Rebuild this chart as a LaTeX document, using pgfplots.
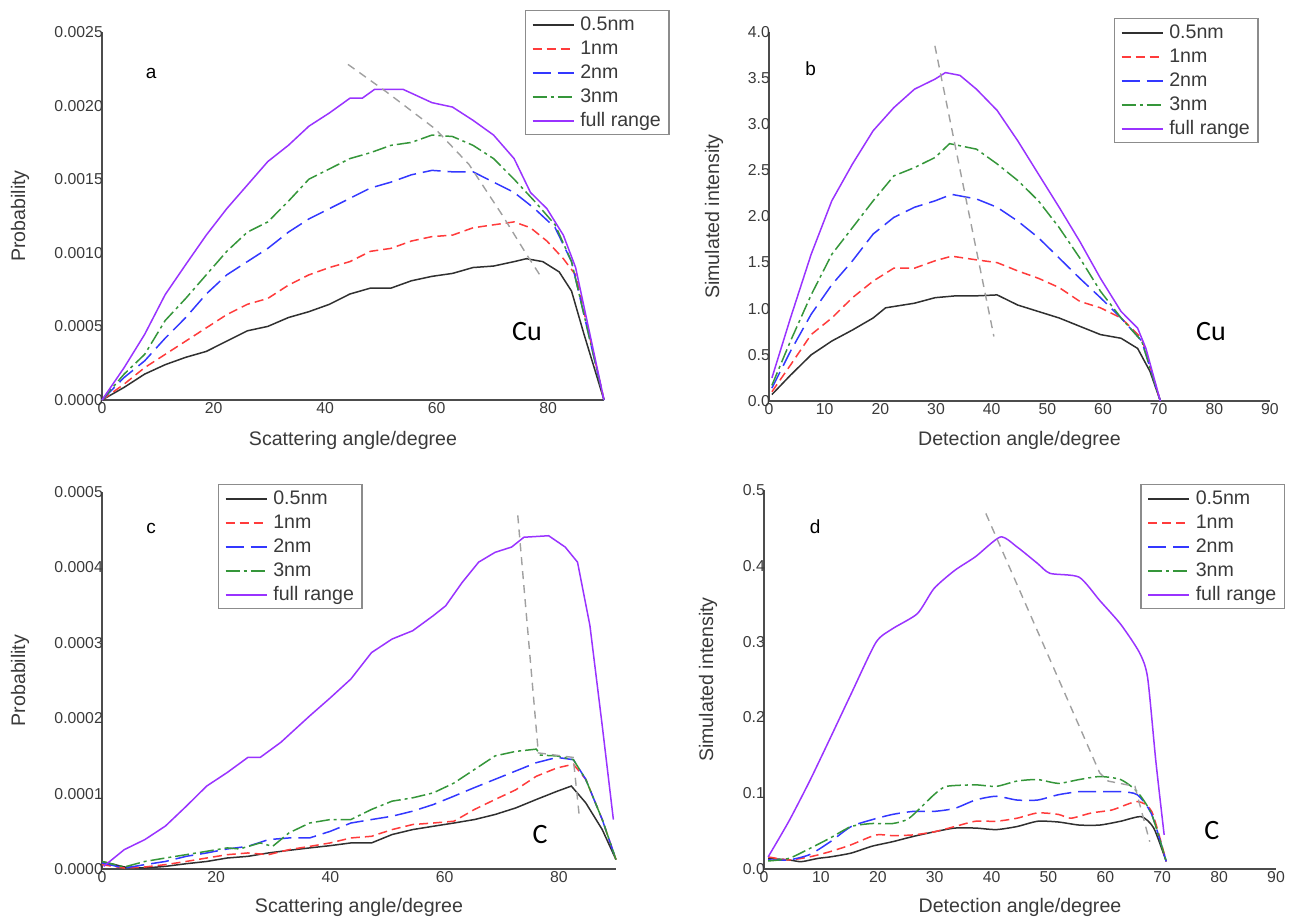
\documentclass[border=0pt]{standalone}
\usepackage{fontspec}
\setmainfont{Liberation Sans}
\newfontfamily\calibri{Carlito}
\usepackage{pgfplots}
\pgfplotsset{compat=1.18}
\definecolor{cblack}{RGB}{48,48,48}
\definecolor{cred}{RGB}{255,59,59}
\definecolor{cblue}{RGB}{51,56,255}
\definecolor{cgreen}{RGB}{53,150,58}
\definecolor{cpurple}{RGB}{153,51,255}
\definecolor{cgray}{RGB}{160,160,160}
\definecolor{ctext}{RGB}{58,58,58}
\pgfplotsset{
  myaxis/.style={
    scale only axis,
    axis lines=left,
    axis line style={-, color=black!70, line width=0.8pt},
    major tick length=0pt,
    xmin=0, xmax=90,
    scaled ticks=false,
    /pgf/number format/assume math mode=true,
    tick label style={font=\fontsize{7.9}{9}\selectfont, text=ctext},
    yticklabel style={inner sep=0pt, anchor=east, xshift=0.6pt},
    xticklabel style={inner sep=0pt, anchor=north, yshift=-1.2pt},
    label style={font=\fontsize{9.8}{11}\selectfont, text=ctext},
    clip=false,
    legend style={draw=black!45, line width=0.6pt, fill=white,
      font=\fontsize{9.8}{11}\selectfont, text=ctext,
      inner xsep=3pt, inner ysep=1pt,
      nodes={inner sep=1pt, text height=7.8pt, text depth=2.2pt},
      cells={anchor=west}, row sep=0pt},
    legend image code/.code={\draw[##1, line width=0.95pt] (0pt,0pt) -- (20.5pt,0pt); \path (22.5pt,0pt);},
  },
  s05/.style={color=cblack, line width=0.75pt, solid},
  s1/.style={color=cred, line width=0.75pt, dash pattern=on 4.5pt off 2.5pt},
  s2/.style={color=cblue, line width=0.75pt, dash pattern=on 9pt off 3.5pt},
  s3/.style={color=cgreen, line width=0.75pt, dash pattern=on 7pt off 2pt on 1.5pt off 2pt},
  sfull/.style={color=cpurple, line width=0.75pt, solid},
  sguide/.style={color=cgray, line width=0.7pt, dash pattern=on 4pt off 3pt},
}
\begin{document}
\begin{tikzpicture}
\useasboundingbox (0,0) rectangle (646.5pt,-459.5pt);
% ---------------- panel a ----------------
\begin{axis}[myaxis,
  at={(51pt,-200pt)}, anchor=south west,
  width=251pt, height=184pt,
  ymin=0, ymax=0.0025,
  xtick={0,20,40,60,80},
  ytick={0,0.0005,0.001,0.0015,0.002,0.0025},
  yticklabel style={/pgf/number format/.cd, fixed, fixed zerofill, precision=4},
  xlabel={Scattering angle/degree}, ylabel={Probability},
  xlabel style={at={(axis description cs:0.5,-0.1087)}, anchor=center},
  ylabel style={at={(axis description cs:-0.1633,0.5)}, anchor=center},
  legend style={at={(axis description cs:0.8426,1.0598)}, anchor=north west},
]
\addplot[s05] coordinates {(0,0)(3.97,0.000086)(7.65,0.000176)(11.33,0.00024)(15.01,0.00029)(18.69,0.00033)(22.37,0.0004)(26.05,0.00047)(29.73,0.0005)(33.41,0.00056)(37.09,0.0006)(40.77,0.00065)(44.44,0.00072)(48.12,0.00076)(51.8,0.00076)(55.48,0.00081)(59.16,0.00084)(62.84,0.00086)(66.52,0.0009)(70.2,0.00091)(73.88,0.00094)(76.09,0.00096)(79.03,0.00094)(81.97,0.00087)(84.18,0.00074)(86.39,0.00045)(90,0)};
\addplot[s1] coordinates {(0,0)(3.97,0.000108)(7.65,0.00022)(11.33,0.00031)(15.01,0.0004)(18.69,0.00049)(22.37,0.00058)(26.05,0.00065)(29.73,0.00069)(33.41,0.00078)(37.09,0.00085)(40.77,0.0009)(44.44,0.00094)(48.12,0.00101)(51.8,0.00103)(55.48,0.00108)(59.16,0.00111)(62.84,0.00112)(66.52,0.00117)(70.2,0.00119)(73.88,0.00121)(76.82,0.00117)(79.76,0.00108)(82.71,0.00096)(84.91,0.00085)(90,0)};
\addplot[s2] coordinates {(0,0)(3.97,0.000153)(7.65,0.000266)(11.33,0.00042)(15.01,0.00056)(18.69,0.00072)(22.37,0.00085)(26.05,0.00094)(29.73,0.00103)(33.41,0.00114)(37.09,0.00123)(40.77,0.0013)(44.44,0.00137)(48.12,0.00144)(51.8,0.00148)(55.48,0.00153)(59.16,0.00156)(62.84,0.00155)(66.52,0.00155)(70.2,0.00148)(73.88,0.00141)(77.56,0.0013)(81.24,0.00117)(84.18,0.00094)(90,0)};
\addplot[s3] coordinates {(0,0)(3.97,0.000176)(7.65,0.00031)(11.33,0.00054)(15.01,0.00069)(18.69,0.00085)(22.37,0.00101)(26.05,0.00114)(29.73,0.00121)(33.41,0.00135)(37.09,0.0015)(40.77,0.00157)(44.44,0.00164)(48.12,0.00168)(51.8,0.00173)(55.48,0.00175)(59.16,0.0018)(62.84,0.00179)(66.52,0.00173)(70.2,0.00164)(73.88,0.0015)(77.56,0.00135)(81.24,0.00119)(84.18,0.00094)(90,0)};
\addplot[sfull] coordinates {(0,0)(3.97,0.00022)(7.65,0.000446)(11.33,0.000716)(15.01,0.00092)(18.69,0.00112)(22.37,0.0013)(26.05,0.00146)(29.73,0.00162)(33.41,0.00173)(37.09,0.00186)(40.77,0.00195)(44.44,0.00205)(46.65,0.00205)(48.86,0.00211)(54.0,0.00211)(59.16,0.00202)(62.84,0.00199)(66.52,0.0019)(70.2,0.0018)(73.88,0.00164)(76.82,0.00141)(79.76,0.0013)(82.71,0.00112)(84.91,0.0009)(90,0)};
\addplot[sguide, forget plot] coordinates {(44.1,0.00228)(51.1,0.00209)(59.8,0.00184)(65.8,0.0016)(71.7,0.00126)(76.1,0.00099)(79,0.00082)};
\legend{0.5nm,1nm,2nm,3nm,full range}
\node[font=\fontsize{9.5}{11}\selectfont, text=black] at (axis cs:8.8,0.00222) {a};
\node[font=\calibri\fontsize{14}{16}\selectfont, text=black] at (axis cs:76.2,0.000462) {Cu};
\end{axis}
% ---------------- panel b ----------------
\begin{axis}[myaxis,
  at={(384.5pt,-200.5pt)}, anchor=south west,
  width=250.5pt, height=184.5pt,
  ymin=0, ymax=4,
  xtick={0,10,...,90},
  ytick={0,0.5,...,4},
  yticklabel style={/pgf/number format/.cd, fixed, fixed zerofill, precision=1},
  xlabel={Detection angle/degree}, ylabel={Simulated intensity},
  xlabel style={at={(axis description cs:0.5,-0.1057)}, anchor=center},
  ylabel style={at={(axis description cs:-0.1098,0.5)}, anchor=center},
  legend style={at={(axis description cs:0.6886,1.038)}, anchor=north west},
]
\addplot[s05] coordinates {(0.52,0.07)(3.86,0.28)(7.57,0.5)(11.28,0.65)(15.0,0.77)(18.71,0.9)(20.94,1.01)(26.13,1.06)(29.84,1.12)(33.55,1.14)(37.27,1.14)(40.98,1.15)(44.69,1.04)(48.4,0.97)(52.12,0.9)(55.83,0.81)(59.54,0.72)(63.25,0.68)(66.22,0.57)(68.45,0.32)(70.3,0)};
\addplot[s1] coordinates {(0.52,0.1)(3.86,0.39)(7.57,0.72)(11.28,0.9)(15.0,1.12)(18.71,1.3)(22.42,1.44)(26.13,1.44)(29.84,1.52)(32.81,1.57)(37.27,1.53)(40.98,1.5)(44.69,1.41)(48.4,1.33)(52.12,1.23)(55.83,1.08)(59.54,1.01)(63.25,0.9)(66.96,0.68)(70.3,0)};
\addplot[s2] coordinates {(0.52,0.14)(3.86,0.54)(7.57,0.94)(11.28,1.26)(15.0,1.52)(18.71,1.81)(22.42,1.99)(26.13,2.1)(29.84,2.17)(32.81,2.24)(37.27,2.19)(40.98,2.1)(44.69,1.95)(48.4,1.77)(52.12,1.55)(55.83,1.33)(59.54,1.12)(63.25,0.9)(66.96,0.65)(70.3,0)};
\addplot[s3] coordinates {(0.52,0.17)(3.86,0.65)(7.57,1.15)(11.28,1.59)(15.0,1.88)(18.71,2.17)(22.42,2.44)(26.13,2.53)(29.84,2.64)(32.44,2.79)(37.27,2.73)(40.98,2.57)(44.69,2.39)(48.4,2.17)(52.12,1.88)(55.83,1.55)(59.54,1.19)(63.25,0.9)(66.96,0.65)(70.3,0)};
\addplot[sfull] coordinates {(0.52,0.25)(3.86,0.9)(7.57,1.59)(11.28,2.17)(15.0,2.57)(18.71,2.93)(22.42,3.18)(26.13,3.38)(29.84,3.49)(31.7,3.56)(34.3,3.53)(37.27,3.38)(40.98,3.15)(44.69,2.82)(48.4,2.46)(52.12,2.1)(55.83,1.73)(59.54,1.33)(63.25,0.97)(66.22,0.79)(67.71,0.57)(70.3,0)};
\addplot[sguide, forget plot] coordinates {(29.8,3.85)(40.4,0.70)};
\legend{0.5nm,1nm,2nm,3nm,full range}
\node[font=\fontsize{9.5}{11}\selectfont, text=black] at (axis cs:7.5,3.6) {b};
\node[font=\calibri\fontsize{14}{16}\selectfont, text=black] at (axis cs:79.4,0.75) {Cu};
\end{axis}
% ---------------- panel c ----------------
\begin{axis}[myaxis,
  at={(51pt,-434.5pt)}, anchor=south west,
  width=257pt, height=188.5pt,
  ymin=0, ymax=0.0005,
  xtick={0,20,40,60,80},
  ytick={0,0.0001,0.0002,0.0003,0.0004,0.0005},
  yticklabel style={/pgf/number format/.cd, fixed, fixed zerofill, precision=4},
  xlabel={Scattering angle/degree}, ylabel={Probability},
  xlabel style={at={(axis description cs:0.5,-0.1008)}, anchor=center},
  ylabel style={at={(axis description cs:-0.1595,0.5)}, anchor=center},
  legend style={at={(axis description cs:0.2257,1.0212)}, anchor=north west},
]
\addplot[s05] coordinates {(0,0.00001)(3.9,0.0000027)(7.5,0.0000013)(11.11,0.0000035)(14.72,0.000007)(18.33,0.00001)(21.93,0.0000146)(25.54,0.0000168)(29.15,0.0000213)(32.76,0.0000248)(36.36,0.000028)(39.97,0.000031)(43.58,0.0000346)(47.19,0.0000346)(50.79,0.0000457)(54.4,0.0000523)(58.01,0.0000567)(61.62,0.000061)(65.22,0.0000656)(68.83,0.0000723)(72.44,0.000081)(76.05,0.0000922)(79.65,0.000103)(82.18,0.00011)(84.7,0.0000878)(87.59,0.0000523)(90,0.0000124)};
\addplot[s1] coordinates {(0,0.0000058)(3.9,0.0000013)(7.5,0.0000027)(11.11,0.0000058)(14.72,0.00001)(18.33,0.0000146)(21.93,0.000019)(25.54,0.0000213)(29.15,0.000019)(32.76,0.0000257)(36.36,0.00003)(39.97,0.0000346)(43.58,0.0000412)(47.19,0.0000434)(50.79,0.0000523)(54.4,0.000059)(58.01,0.000061)(61.62,0.0000634)(65.22,0.000079)(68.83,0.0000922)(72.44,0.000105)(76.05,0.000123)(79.65,0.000134)(82.54,0.000139)(84.7,0.000119)(87.59,0.0000656)(90,0.0000124)};
\addplot[s2] coordinates {(0,0.000008)(3.9,0.0000013)(7.5,0.0000058)(11.11,0.00001)(14.72,0.0000168)(18.33,0.0000213)(21.93,0.0000266)(25.54,0.00003)(29.15,0.000039)(32.76,0.0000412)(36.36,0.0000412)(39.97,0.00005)(43.58,0.000061)(47.19,0.0000656)(50.79,0.00007)(54.4,0.0000767)(58.01,0.0000855)(61.62,0.0000966)(65.22,0.000108)(68.83,0.000119)(72.44,0.00013)(76.05,0.000141)(79.65,0.000148)(82.54,0.000145)(84.7,0.000119)(87.59,0.0000656)(90,0.0000124)};
\addplot[s3] coordinates {(0,0.00001)(3.9,0.0000027)(7.5,0.00001)(11.11,0.0000146)(14.72,0.000019)(18.33,0.0000235)(21.93,0.000028)(24.1,0.0000266)(27.7,0.0000346)(29.87,0.00003)(32.76,0.000048)(36.36,0.000061)(39.97,0.0000656)(43.58,0.0000656)(47.19,0.000079)(50.79,0.00009)(54.4,0.0000944)(58.01,0.000101)(61.62,0.000114)(65.22,0.000132)(68.83,0.00015)(72.44,0.000156)(76.05,0.000159)(76.77,0.000151)(79.65,0.00015)(82.54,0.000145)(84.7,0.000119)(87.59,0.0000656)(90,0.0000124)};
\addplot[sfull] coordinates {(0.29,0.0000035)(3.9,0.0000257)(7.5,0.000039)(11.11,0.000057)(14.72,0.000083)(18.33,0.00011)(21.93,0.000128)(25.54,0.000148)(27.7,0.000148)(31.31,0.000168)(36.36,0.000203)(39.97,0.000227)(43.58,0.000252)(47.19,0.000287)(50.79,0.000305)(54.4,0.000316)(58.01,0.000336)(60.17,0.000349)(63.06,0.00038)(65.95,0.000407)(68.83,0.00042)(71.72,0.000427)(73.88,0.00044)(78.21,0.000442)(81.1,0.000427)(83.26,0.000407)(85.43,0.000323)(87.59,0.00019)(89.54,0.0000656)};
\addplot[sguide, forget plot] coordinates {(72.8,0.000469)(76.4,0.000154)(82.5,0.000148)(83.6,0.0000678)};
\legend{0.5nm,1nm,2nm,3nm,full range}
\node[font=\fontsize{9.5}{11}\selectfont, text=black] at (axis cs:8.6,0.000452) {c};
\node[font=\calibri\fontsize{14}{16}\selectfont, text=black] at (axis cs:76.7,0.0000451) {C};
\end{axis}
% ---------------- panel d ----------------
\begin{axis}[myaxis,
  at={(382pt,-434.5pt)}, anchor=south west,
  width=256pt, height=189.5pt,
  ymin=0, ymax=0.5,
  xtick={0,10,...,90},
  ytick={0,0.1,0.2,0.3,0.4,0.5},
  yticklabel style={/pgf/number format/.cd, fixed, fixed zerofill, precision=1},
  xlabel={Detection angle/degree}, ylabel={Simulated intensity},
  xlabel style={at={(axis description cs:0.5,-0.1003)}, anchor=center},
  ylabel style={at={(axis description cs:-0.1094,0.5)}, anchor=center},
  legend style={at={(axis description cs:1.0176,1.0158)}, anchor=north east},
]
\addplot[s05, smooth, tension=0.4] coordinates {(0.73,0.014)(4.37,0.012)(6.56,0.0097)(9.48,0.014)(11.66,0.016)(15.31,0.021)(18.95,0.03)(22.59,0.036)(26.24,0.043)(29.88,0.049)(33.53,0.054)(37.17,0.054)(40.82,0.052)(44.46,0.056)(48.1,0.063)(51.75,0.062)(55.39,0.058)(59.04,0.058)(62.68,0.063)(66.33,0.069)(68.51,0.054)(70.7,0.01)};
\addplot[s1, smooth, tension=0.4] coordinates {(0.73,0.016)(4.37,0.012)(8.02,0.016)(11.66,0.023)(15.31,0.032)(19.68,0.045)(22.59,0.044)(26.24,0.045)(29.88,0.049)(33.53,0.056)(37.17,0.063)(40.82,0.063)(44.46,0.067)(48.1,0.074)(51.75,0.072)(53.94,0.067)(57.58,0.074)(61.22,0.078)(65.6,0.089)(68.15,0.076)(70.7,0.01)};
\addplot[s2, smooth, tension=0.4] coordinates {(0.73,0.012)(4.37,0.012)(8.02,0.019)(11.66,0.036)(15.31,0.056)(18.95,0.065)(22.59,0.072)(26.24,0.076)(29.88,0.076)(33.53,0.08)(37.17,0.091)(40.82,0.096)(44.46,0.091)(48.1,0.091)(51.75,0.098)(55.39,0.102)(59.04,0.102)(62.68,0.102)(65.6,0.098)(68.15,0.072)(70.7,0.01)};
\addplot[s3, smooth, tension=0.4] coordinates {(0.73,0.0106)(4.37,0.014)(8.02,0.027)(11.66,0.041)(15.31,0.056)(18.95,0.06)(22.59,0.06)(25.51,0.067)(29.88,0.098)(32.07,0.109)(37.17,0.111)(40.82,0.109)(44.46,0.116)(48.1,0.118)(51.75,0.113)(55.39,0.118)(59.04,0.122)(62.68,0.118)(65.6,0.102)(68.15,0.072)(70.7,0.01)};
\addplot[sfull, smooth, tension=0.4] coordinates {(0.73,0.016)(4.37,0.063)(8.02,0.116)(11.66,0.173)(15.31,0.231)(19.68,0.299)(22.59,0.317)(26.97,0.337)(29.88,0.37)(33.53,0.394)(37.17,0.412)(41.55,0.438)(44.46,0.425)(48.1,0.403)(50.29,0.39)(55.39,0.385)(59.04,0.354)(62.68,0.323)(65.96,0.286)(67.42,0.253)(68.88,0.142)(70.34,0.045)};
\addplot[sguide, forget plot] coordinates {(39,0.469)(59,0.127)(60.5,0.116)(65.2,0.109)(67.8,0.036)};
\legend{0.5nm,1nm,2nm,3nm,full range}
\node[font=\fontsize{9.5}{11}\selectfont, text=black] at (axis cs:9,0.451) {d};
\node[font=\calibri\fontsize{14}{16}\selectfont, text=black] at (axis cs:78.7,0.051) {C};
\end{axis}
\end{tikzpicture}
\end{document}
